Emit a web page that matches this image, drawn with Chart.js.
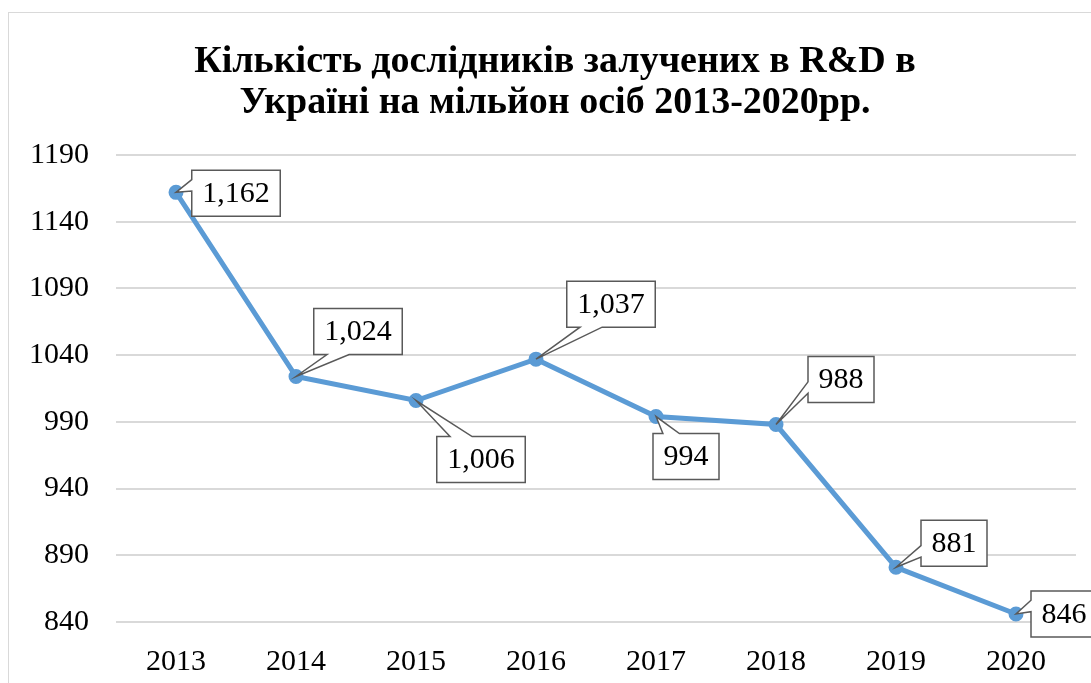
<!DOCTYPE html>
<html><head><meta charset="utf-8">
<script src="https://cdn.jsdelivr.net/npm/chart.js@4/dist/chart.umd.min.js"></script>
<style>
html,body{margin:0;padding:0;background:#fff;overflow:hidden;}
#frame{position:absolute;left:8px;top:12px;width:1100px;height:700px;border:1px solid #d9d9d9;box-sizing:border-box;}
#wrap{position:absolute;left:-25px;top:0;width:1108px;height:689px;}
</style></head>
<body>
<div id="frame"><div id="wrap"><canvas id="c"></canvas></div></div>
<script>
const titleLines = ['Кількість дослідників залучених в R&D в', 'Україні на мільйон осіб 2013-2020рр.'];
const years = ['2013','2014','2015','2016','2017','2018','2019','2020'];
const researchers = [1162, 1024, 1006, 1037, 994, 988, 881, 846];
const yTicks = [840, 890, 940, 990, 1040, 1090, 1140, 1190];

// callout placement (offset of box centre from point, in px) and pointer side
const calloutOffsets = [[60,1],[62,-45],[65,59],[75,-55],[30,40],[65,-45],[58,-24],[48,0]];
const calloutSides = ['left','bottom','top','bottom','top','left','left','left'];

const fmt = v => v.toLocaleString('en-US');
const SERIF = '"Liberation Serif", "Times New Roman", serif';

const titlePlugin = {
  id: 'centredTitle',
  afterDraw(chart) {
    const ctx = chart.ctx;
    ctx.save();
    ctx.font = 'bold 38px ' + SERIF;
    ctx.fillStyle = '#000';
    ctx.textAlign = 'center';
    ctx.textBaseline = 'middle';
    const x = chart.width / 2 + 17;
    titleLines.forEach((t, i) => ctx.fillText(t, x, 49 + i * 41));
    ctx.restore();
  }
};

const calloutPlugin = {
  id: 'callouts',
  afterDatasetsDraw(chart) {
    const ctx = chart.ctx;
    const meta = chart.getDatasetMeta(0);
    ctx.save();
    ctx.font = '30px ' + SERIF;
    meta.data.forEach((pt, i) => {
      const txt = fmt(researchers[i]);
      const tw = ctx.measureText(txt).width;
      const w = tw + 21, h = 46;
      const cx = pt.x + calloutOffsets[i][0], cy = pt.y + calloutOffsets[i][1];
      const x0 = cx - w/2, x1 = cx + w/2, y0 = cy - h/2, y1 = cy + h/2;
      const side = calloutSides[i];
      const px = pt.x, py = pt.y;
      ctx.beginPath();
      ctx.moveTo(x0, y0);
      if (side === 'top') {
        const a = x0 + w*0.15, b = x0 + w*0.4;
        ctx.lineTo(a, y0); ctx.lineTo(px, py); ctx.lineTo(b, y0);
      }
      ctx.lineTo(x1, y0);
      ctx.lineTo(x1, y1);
      if (side === 'bottom') {
        const a = x0 + w*0.4, b = x0 + w*0.15;
        ctx.lineTo(a, y1); ctx.lineTo(px, py); ctx.lineTo(b, y1);
      }
      ctx.lineTo(x0, y1);
      if (side === 'left') {
        let a, b;
        if (py <= cy + 2) { a = y0 + h*0.45; b = y0 + h*0.2; }
        else { a = y0 + h*0.8; b = y0 + h*0.55; }
        ctx.lineTo(x0, a); ctx.lineTo(px, py); ctx.lineTo(x0, b);
      }
      ctx.closePath();
      ctx.fillStyle = '#ffffff';
      ctx.fill();
      ctx.lineWidth = 1.5;
      ctx.strokeStyle = '#595959';
      ctx.stroke();
      ctx.fillStyle = '#000000';
      ctx.textAlign = 'center';
      ctx.textBaseline = 'middle';
      ctx.fillText(txt, cx, cy + 1);
    });
    ctx.restore();
  }
};

new Chart(document.getElementById('c'), {
  type: 'line',
  data: {
    labels: years,
    datasets: [{
      data: researchers,
      borderColor: '#5b9bd5',
      backgroundColor: '#5b9bd5',
      borderWidth: 5,
      pointRadius: 5,
      pointHoverRadius: 5,
      tension: 0
    }]
  },
  options: {
    responsive: true,
    maintainAspectRatio: false,
    animation: false,
    layout: { padding: { left: 18, right: 16, top: 142, bottom: 0 } },
    plugins: {
      legend: { display: false },
      tooltip: { enabled: false },
      title: { display: false }
    },
    scales: {
      x: {
        offset: true,
        grid: { display: false, drawTicks: false },
        border: { display: false },
        ticks: { color: '#000', font: { family: SERIF, size: 30 }, padding: 22, maxRotation: 0 }
      },
      y: {
        min: 840, max: 1190,
        afterBuildTicks: axis => { axis.ticks = yTicks.map(v => ({ value: v })); },
        grid: { color: '#d9d9d9', lineWidth: 2, drawTicks: false },
        border: { display: false },
        ticks: { color: '#000', font: { family: SERIF, size: 30 }, padding: 27, callback: v => String(v) }
      }
    }
  },
  plugins: [calloutPlugin, titlePlugin]
});
</script>
</body></html>
